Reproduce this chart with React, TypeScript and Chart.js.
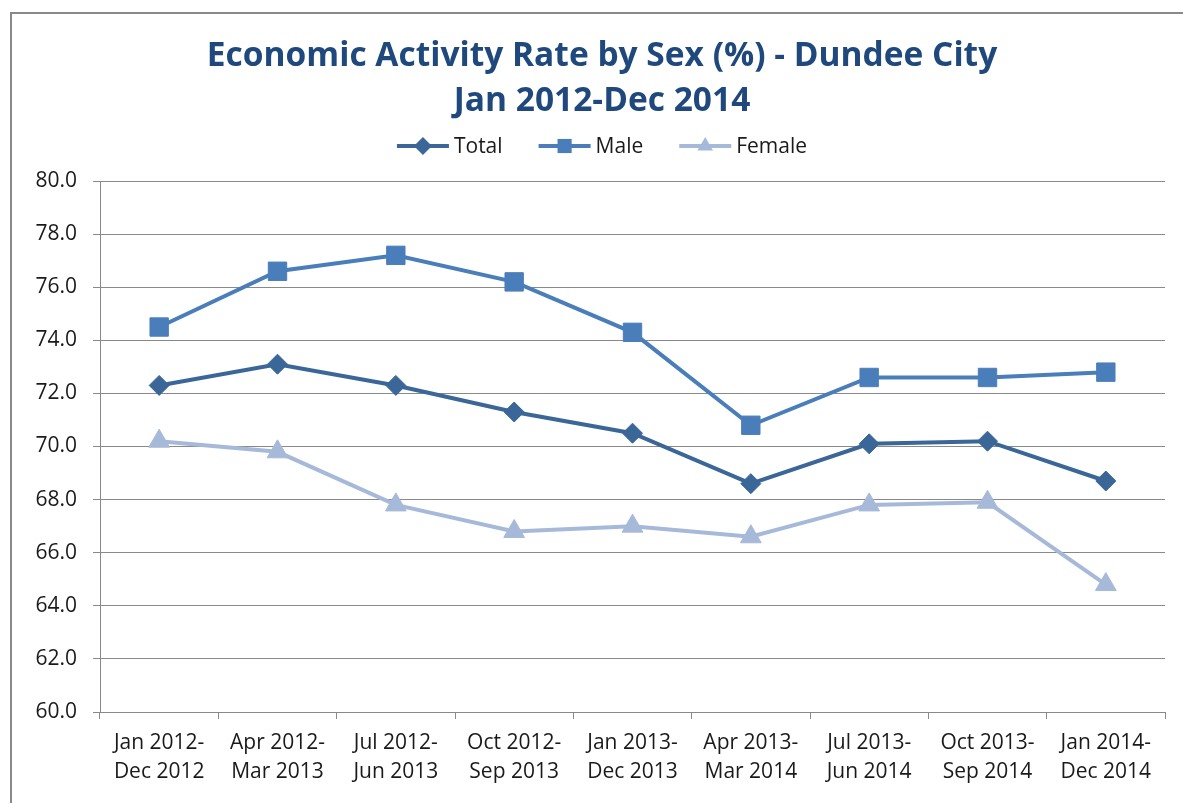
import React, { useEffect, useRef } from "react";
import { Chart, registerables } from "chart.js";

Chart.register(...registerables);

const categories: string[][] = [
  ["Jan 2012-", "Dec 2012"],
  ["Apr 2012-", "Mar 2013"],
  ["Jul 2012-", "Jun 2013"],
  ["Oct 2012-", "Sep 2013"],
  ["Jan 2013-", "Dec 2013"],
  ["Apr 2013-", "Mar 2014"],
  ["Jul 2013-", "Jun 2014"],
  ["Oct 2013-", "Sep 2014"],
  ["Jan 2014-", "Dec 2014"],
];

const seriesNames = ["Total", "Male", "Female"];
const totalValues = [72.3, 73.1, 72.3, 71.3, 70.5, 68.6, 70.1, 70.2, 68.7];
const maleValues = [74.5, 76.6, 77.2, 76.2, 74.3, 70.8, 72.6, 72.6, 72.8];
const femaleValues = [70.2, 69.8, 67.8, 66.8, 67.0, 66.6, 67.8, 67.9, 64.8];

const titleLines = ["Economic Activity Rate by Sex (%) - Dundee City", "Jan 2012-Dec 2014"];

const yMin = 60;
const yMax = 80;
const yStep = 2;

const W = 1183;
const H = 803;
const FONT = "'Open Sans', 'Noto Sans', sans-serif";
const GRID = "#898989";
const TEXT = "#1a1a1a";
const TITLE_COLOR = "#1F497D";
const CENTER_X = 602;

const colors = ["#3B6698", "#4A7EBB", "#A7B9D9"];
const pointStyles = ["rectRot", "rect", "triangle"];
const pointRadii = [10, 13, 12];

function drawMarker(ctx: CanvasRenderingContext2D, style: string, x: number, y: number, r: number) {
  ctx.beginPath();
  if (style === "rectRot") {
    ctx.moveTo(x, y - r);
    ctx.lineTo(x + r, y);
    ctx.lineTo(x, y + r);
    ctx.lineTo(x - r, y);
  } else if (style === "rect") {
    const s = r * Math.SQRT1_2;
    ctx.rect(x - s, y - s, 2 * s, 2 * s);
  } else {
    const h = r * Math.sqrt(3) / 2;
    ctx.moveTo(x, y - r);
    ctx.lineTo(x + h, y + r / 2);
    ctx.lineTo(x - h, y + r / 2);
  }
  ctx.closePath();
  ctx.fill();
}

const headerPlugin = {
  id: "header",
  afterDraw(chart: any) {
    const ctx: CanvasRenderingContext2D = chart.ctx;
    ctx.save();
    ctx.fillStyle = TITLE_COLOR;
    ctx.font = `bold 33.5px ${FONT}`;
    ctx.textAlign = "center";
    ctx.textBaseline = "alphabetic";
    ctx.fillText(titleLines[0], CENTER_X, 66);
    ctx.fillText(titleLines[1], CENTER_X, 111);

    // legend
    ctx.font = `21px ${FONT}`;
    const lineLen = 52;
    const gap = 5;
    const itemGap = 36;
    const legendY = 146;
    const ds = chart.data.datasets;
    const widths = ds.map((d: any) => lineLen + gap + ctx.measureText(d.label).width);
    const total = widths.reduce((a: number, b: number) => a + b, 0) + itemGap * (ds.length - 1);
    let x = CENTER_X - total / 2;
    ds.forEach((d: any, i: number) => {
      ctx.strokeStyle = d.borderColor;
      ctx.lineWidth = 4;
      ctx.beginPath();
      ctx.moveTo(x, legendY);
      ctx.lineTo(x + lineLen, legendY);
      ctx.stroke();
      ctx.fillStyle = d.borderColor;
      drawMarker(ctx, d.pointStyle, x + lineLen / 2, legendY, d.pointStyle === "rect" ? 10 : 9);
      ctx.fillStyle = TEXT;
      ctx.textAlign = "left";
      ctx.textBaseline = "middle";
      ctx.fillText(d.label, x + lineLen + gap, legendY + 1);
      x += widths[i] + itemGap;
    });
    ctx.restore();
  },
};

export default function App() {
  const canvasRef = useRef<HTMLCanvasElement | null>(null);

  useEffect(() => {
    if (!canvasRef.current) return;
    const seriesValues = [totalValues, maleValues, femaleValues];
    const chart = new Chart(canvasRef.current, {
      type: "line",
      data: {
        labels: categories,
        datasets: seriesNames.map((name, i) => ({
          label: name,
          data: seriesValues[i],
          borderColor: colors[i],
          backgroundColor: colors[i],
          pointBackgroundColor: colors[i],
          pointBorderColor: colors[i],
          pointBorderWidth: 1,
          borderWidth: 4,
          pointStyle: pointStyles[i] as any,
          pointRadius: pointRadii[i],
          pointHoverRadius: pointRadii[i],
          tension: 0,
          fill: false,
        })),
      },
      options: {
        responsive: false,
        animation: false,
        devicePixelRatio: 1,
        events: [],
        layout: { padding: { left: 8, top: 181, right: 18, bottom: 11 } },
        plugins: {
          legend: { display: false },
          title: { display: false },
          tooltip: { enabled: false },
        },
        scales: {
          x: {
            type: "category",
            offset: true,
            grid: {
              offset: true,
              drawOnChartArea: false,
              drawTicks: true,
              tickLength: 7,
              color: GRID,
              lineWidth: 1,
            },
            border: { color: GRID, width: 1 },
            ticks: {
              color: TEXT,
              font: { family: FONT, size: 21, lineHeight: 1.36 },
              padding: 10,
              maxRotation: 0,
              autoSkip: false,
            },
            afterFit: (s: any) => {
              s.height = 80;
            },
          },
          y: {
            min: yMin,
            max: yMax,
            grid: { color: GRID, lineWidth: 1, tickLength: 7, drawTicks: true },
            border: { color: GRID, width: 1 },
            ticks: {
              stepSize: yStep,
              color: TEXT,
              font: { family: FONT, size: 21 },
              padding: 16,
              callback: (v: any) => Number(v).toFixed(1),
            },
            afterFit: (s: any) => {
              s.width = 92;
            },
          },
        },
      },
      plugins: [headerPlugin],
    });
    return () => chart.destroy();
  }, []);

  return (
    <div style={{ position: "fixed", left: 0, top: 0, width: W, height: H, overflow: "hidden", background: "#fff" }}>
      <div
        style={{
          position: "absolute",
          left: 10,
          top: 12,
          width: 1400,
          height: 1000,
          border: `2px solid ${GRID}`,
          boxSizing: "border-box",
        }}
      />
      <canvas
        ref={canvasRef}
        width={W}
        height={H}
        style={{ position: "absolute", left: 0, top: 0, width: W, height: H }}
      />
    </div>
  );
}
